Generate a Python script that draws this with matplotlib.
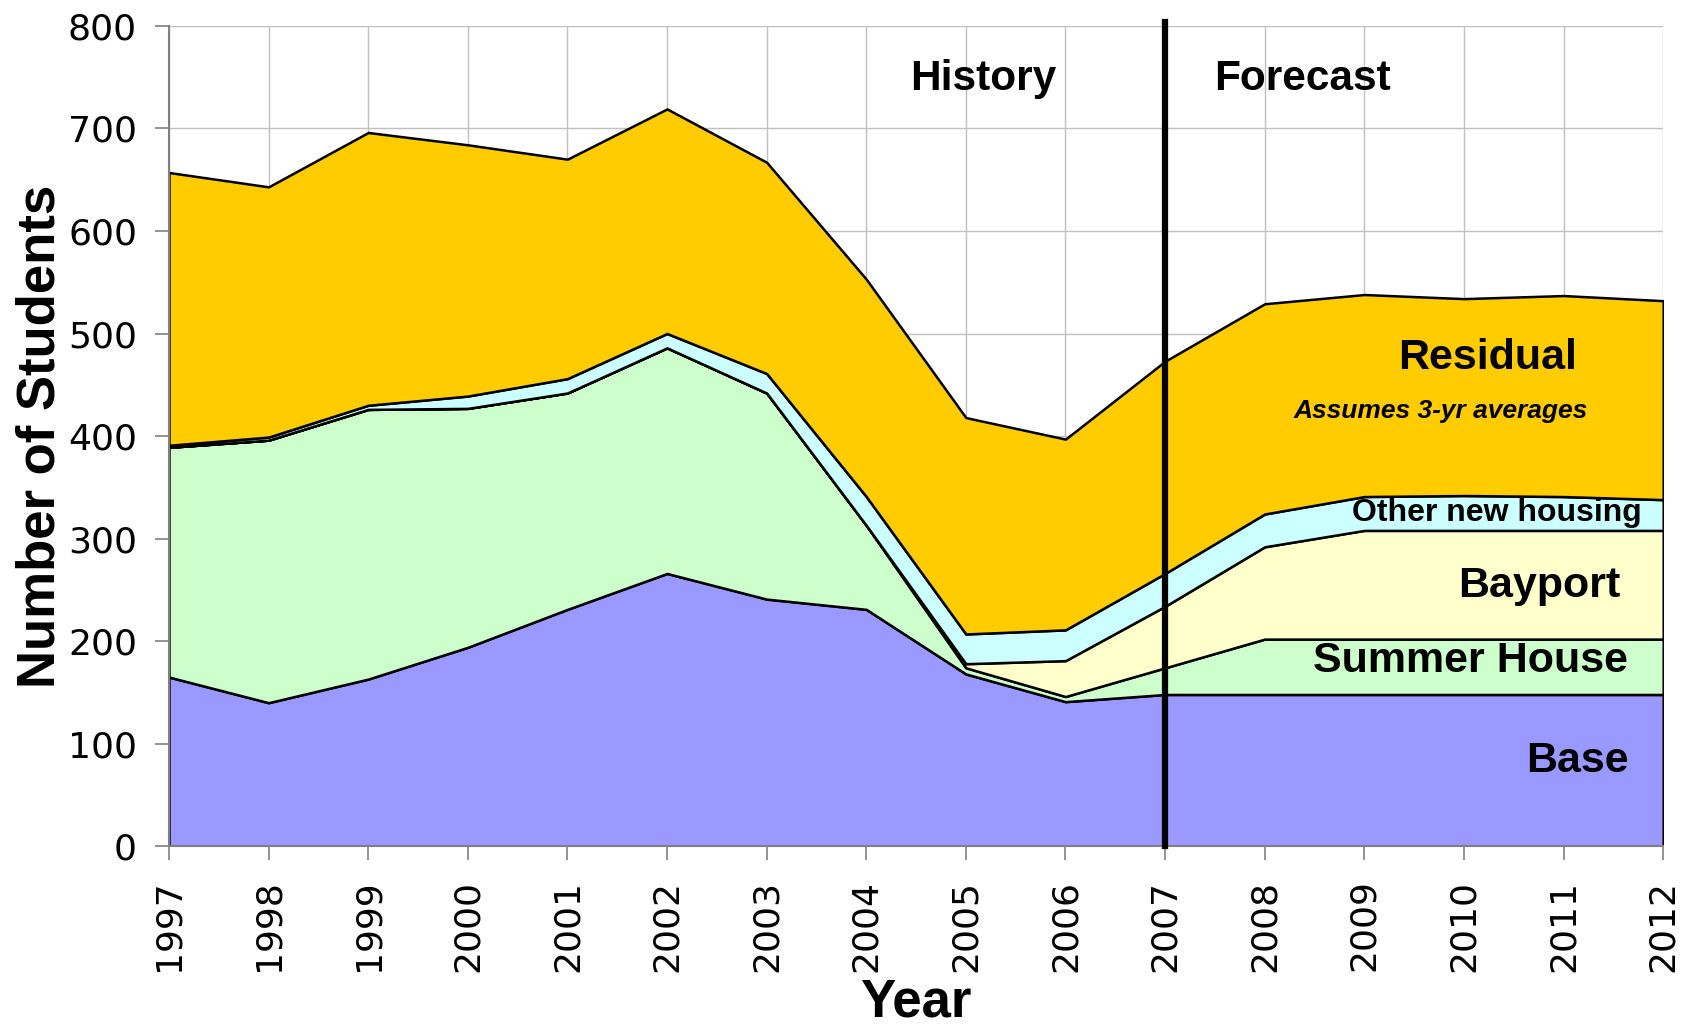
import numpy as np
import matplotlib
matplotlib.use("Agg")
import matplotlib.pyplot as plt

plt.rcParams['font.family'] = ['Liberation Sans', 'DejaVu Sans']

years = list(range(1997, 2013))
base     = [165, 140, 163, 194, 231, 266, 241, 231, 168, 141, 148, 148, 148, 148, 148, 148]
summer   = [224, 256, 263, 233, 211, 220, 201,  82,   6,   5,  26,  54,  54,  54,  54,  54]
bayport  = [  0,   0,   0,   0,   0,   0,   0,   0,   4,  35,  60,  90, 106, 106, 106, 106]
other    = [  2,   3,   4,  12,  14,  14,  19,  28,  29,  30,  32,  32,  33,  34,  33,  30]
residual = [266, 244, 266, 245, 214, 219, 206, 212, 211, 186, 207, 205, 197, 192, 196, 194]

series_labels = ["Base", "Summer House", "Bayport", "Other new housing", "Residual"]
colors = ["#9999FF", "#CCFFCC", "#FFFFCC", "#CCFFFF", "#FFCC00"]
yticks = list(range(0, 801, 100))

fig = plt.figure(figsize=(16.88, 10.26), dpi=100)
ax = fig.add_axes([0.1001, 0.1752, 0.8852, 0.7996])

ax.stackplot(years, base, summer, bayport, other, residual, colors=colors,
             edgecolor="black", linewidth=1.8, zorder=2)

ax.axvline(2007, color="black", linewidth=4.5, zorder=4, ymin=0, ymax=1.005, clip_on=False)

ax.set_xlim(1997, 2012)
ax.set_ylim(0, 800)
ax.set_xticks(years)
ax.set_xticklabels([str(y) for y in years], rotation=90, fontsize=26, family="DejaVu Sans")
ax.set_yticks(yticks)
ax.set_yticklabels([str(v) for v in yticks], fontsize=26, family="DejaVu Sans")
ax.grid(True, color="#C0C0C0", linewidth=1.0, zorder=0)
ax.set_axisbelow(True)
for s in ["top", "right"]:
    ax.spines[s].set_visible(False)
ax.spines["left"].set_color("#808080")
ax.spines["bottom"].set_color("#808080")
ax.spines["left"].set_linewidth(1.5)
ax.spines["bottom"].set_linewidth(1.5)
ax.tick_params(axis="both", direction="out", length=10, width=1.2, color="#808080")
ax.tick_params(axis="y", pad=13)
ax.tick_params(axis="x", pad=14)

ax.set_ylabel("Number of Students", fontsize=38, fontweight="bold", labelpad=2)
ax.set_xlabel("Year", fontsize=38, fontweight="bold", labelpad=4)

tk = dict(fontweight="bold", ha="center", va="center", zorder=5)
ax.text(2005.17, 748, "History", fontsize=30.5, **tk)
ax.text(2008.38, 748, "Forecast", fontsize=30.5, **tk)
ax.text(2010.24, 476, "Residual", fontsize=31, **tk)
ax.text(2009.77, 424, "Assumes 3-yr averages", fontsize=19, style="italic", **tk)
ax.text(2010.33, 325, "Other new housing", fontsize=23, **tk)
ax.text(2010.76, 254, "Bayport", fontsize=31, **tk)
ax.text(2010.07, 181, "Summer House", fontsize=31, **tk)
ax.text(2011.14, 83, "Base", fontsize=31, **tk)

fig.savefig("out.png", dpi=100)
